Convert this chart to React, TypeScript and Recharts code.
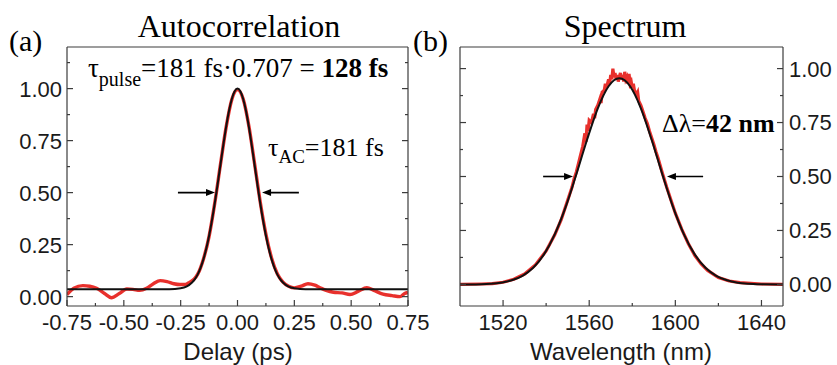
import React from 'react'
import { LineChart, Line, XAxis, YAxis, ReferenceLine } from 'recharts'

const SANS = '"Liberation Sans", Arial, sans-serif'
const SERIF = '"Liberation Serif", "Times New Roman", serif'
const FRAME = '#3c3c3c'
const RED = '#e8302c'
const INK = '#1a1a1a'

// (a) autocorrelation, measured trace
const acMeasDelay = [
  -0.75, -0.72, -0.68, -0.65, -0.62, -0.585, -0.555, -0.52, -0.487, -0.46, -0.43, -0.4, -0.37, -0.34,
  -0.31, -0.28, -0.253, -0.23, -0.21, -0.19, -0.175, -0.15, -0.125, -0.1, -0.075, -0.05, -0.025, 0,
  0.025, 0.05, 0.075, 0.1, 0.125, 0.15, 0.175, 0.2, 0.225, 0.25, 0.28, 0.31, 0.34, 0.363, 0.39, 0.422,
  0.46, 0.495, 0.53, 0.569, 0.6, 0.64, 0.68, 0.715, 0.735, 0.75,
]
const acMeasValue = [
  0.01, 0.04, 0.053, 0.05, 0.04, 0.015, -0.005, 0.015, 0.037, 0.035, 0.03, 0.04, 0.062, 0.077,
  0.072, 0.062, 0.058, 0.058, 0.07, 0.085, 0.108, 0.18, 0.29, 0.45, 0.635, 0.815, 0.948, 0.995,
  0.95, 0.82, 0.64, 0.455, 0.3, 0.185, 0.11, 0.07, 0.05, 0.042, 0.05, 0.062, 0.055, 0.043, 0.03, 0.021,
  0.018, 0.01, 0.025, 0.043, 0.03, 0.012, 0.005, 0, 0.015, 0.02,
]

// (a) autocorrelation, fit
const acFitDelay = [
  -0.75, -0.3, -0.25, -0.225, -0.2, -0.1875, -0.175, -0.1625, -0.15, -0.1375, -0.125, -0.1125, -0.1,
  -0.0875, -0.075, -0.0625, -0.05, -0.0375, -0.025, -0.0125, 0, 0.0125, 0.025, 0.0375, 0.05, 0.0625,
  0.075, 0.0875, 0.1, 0.1125, 0.125, 0.1375, 0.15, 0.1625, 0.175, 0.1875, 0.2, 0.225, 0.25, 0.3, 0.75,
]
const acFitValue = [
  0.035, 0.035, 0.04, 0.048, 0.068, 0.084, 0.107, 0.138, 0.179, 0.23, 0.293, 0.366, 0.449,
  0.54, 0.634, 0.728, 0.816, 0.892, 0.95, 0.987, 1.0, 0.987, 0.95, 0.892, 0.816, 0.728,
  0.634, 0.54, 0.449, 0.366, 0.293, 0.23, 0.179, 0.138, 0.107, 0.084, 0.068, 0.048, 0.04, 0.035, 0.035,
]

// (b) spectrum, measured trace
const specMeasWl = [
  1500, 1510, 1515, 1520, 1525, 1530, 1535, 1540, 1544, 1547, 1550, 1552, 1553, 1554, 1555, 1556, 1557,
  1558, 1558.5, 1559, 1559.5, 1560, 1561, 1562, 1562.5, 1563, 1564, 1565, 1565.5, 1566, 1567, 1567.5,
  1568, 1569, 1569.5, 1570, 1570.5, 1571, 1571.5, 1572, 1572.5, 1573, 1573.5, 1574, 1574.5, 1575,
  1575.5, 1576, 1576.5, 1577, 1577.5, 1578, 1578.5, 1579, 1579.5, 1580, 1580.5, 1581, 1582, 1582.5,
  1583, 1584, 1585, 1586, 1587, 1588, 1589, 1590, 1591, 1592, 1593, 1594, 1596, 1598, 1600, 1603,
  1606, 1609, 1612, 1615, 1620, 1625, 1630, 1640, 1650,
]
const specMeasValue = [
  0, 0.002, 0.004, 0.01, 0.024, 0.048, 0.09, 0.155, 0.23, 0.3, 0.39, 0.45, 0.49, 0.52, 0.56, 0.6, 0.64,
  0.7, 0.66, 0.74, 0.71, 0.76, 0.75, 0.79, 0.77, 0.81, 0.83, 0.86, 0.84, 0.89, 0.9, 0.93,
  0.91, 0.95, 0.93, 0.97, 0.95, 1.0, 0.96, 0.98, 0.95, 0.97, 0.94, 0.96, 0.98, 0.95,
  0.97, 0.94, 0.985, 0.95, 0.96, 0.93, 0.975, 0.93, 0.94, 0.91, 0.93, 0.9, 0.88, 0.89,
  0.85, 0.83, 0.8, 0.77, 0.745, 0.71, 0.68, 0.65, 0.615, 0.585, 0.55, 0.515, 0.45, 0.39, 0.33, 0.255,
  0.19, 0.135, 0.095, 0.065, 0.032, 0.016, 0.008, 0.002, 0,
]

// (b) spectrum, fit
const specFitWl = [
  1500, 1505, 1510, 1514, 1519, 1524, 1529, 1534, 1539, 1544, 1549, 1554, 1559, 1564, 1569, 1571.5,
  1574, 1576.5, 1579, 1584, 1589, 1594, 1599, 1604, 1609, 1614, 1619, 1624, 1629, 1634, 1638, 1650,
]
const specFitValue = [
  0, 0, 0.001, 0.003, 0.008, 0.019, 0.04, 0.077, 0.139, 0.232, 0.357, 0.509, 0.67, 0.816, 0.918, 0.946,
  0.955, 0.946, 0.918, 0.816, 0.67, 0.509, 0.357, 0.232, 0.139, 0.077, 0.04, 0.019, 0.008, 0.003, 0.001, 0,
]

// ticks
const acXTicks = [-0.75, -0.625, -0.5, -0.375, -0.25, -0.125, 0, 0.125, 0.25, 0.375, 0.5, 0.625, 0.75]
const acXMajor = [-0.75, -0.5, -0.25, 0, 0.25, 0.5, 0.75]
const acYTicks = [0, 0.125, 0.25, 0.375, 0.5, 0.625, 0.75, 0.875, 1, 1.125]
const acYMajor = [0, 0.25, 0.5, 0.75, 1]
const specXTicks = [1520, 1540, 1560, 1580, 1600, 1620, 1640]
const specXMajor = [1520, 1560, 1600, 1640]
const specYTicks = [0, 0.125, 0.25, 0.375, 0.5, 0.625, 0.75, 0.875, 1]
const specYMajor = [0, 0.25, 0.5, 0.75, 1]

// half-maximum arrows (data units)
const acArrows = [
  { from: -0.262, to: -0.099, level: 0.5 },
  { from: 0.27, to: 0.108, level: 0.5 },
]
const specArrows = [
  { from: 1538.6, to: 1552.5, level: 0.5 },
  { from: 1612.9, to: 1596.1, level: 0.5 },
]

const zip = (xs: number[], ys: number[]) => xs.map((x, i) => ({ x, y: ys[i] }))
const acMeas = zip(acMeasDelay, acMeasValue)
const acFit = zip(acFitDelay, acFitValue)
const specMeas = zip(specMeasWl, specMeasValue)
const specFit = zip(specFitWl, specFitValue)

type Side = 'bottom' | 'top' | 'left' | 'right'

const makeTick = (side: Side, majors: number[], fmt?: (v: number) => string) => (props: any) => {
  const { x, y, payload } = props
  const v = payload.value
  const major = majors.includes(v)
  const len = major ? 6 : 3
  let line
  if (side === 'bottom') line = <line x1={x} y1={y} x2={x} y2={y - len} />
  else if (side === 'top') line = <line x1={x} y1={y} x2={x} y2={y + len} />
  else if (side === 'left') line = <line x1={x} y1={y} x2={x + len} y2={y} />
  else line = <line x1={x} y1={y} x2={x - len} y2={y} />
  let label = null
  if (major && fmt) {
    const common = { fontFamily: SANS, fontSize: 22, fill: INK }
    if (side === 'bottom')
      label = <text x={x} y={y + 24} textAnchor="middle" {...common}>{fmt(v)}</text>
    else if (side === 'left')
      label = <text x={x - 5} y={y} dy="0.36em" textAnchor="end" {...common}>{fmt(v)}</text>
    else if (side === 'right')
      label = <text x={x + 6} y={y} dy="0.36em" textAnchor="start" {...common}>{fmt(v)}</text>
  }
  return (
    <g stroke={FRAME} strokeWidth={1.2}>
      {line}
      {label && <g stroke="none">{label}</g>}
    </g>
  )
}

const Arrow = (p: any) => {
  const { x1, y1, x2, y2 } = p
  const dir = Math.sign(x2 - x1)
  const L = 9
  const W = 3.5
  return (
    <g>
      <line x1={x1} y1={y1} x2={x2 - dir * L * 0.5} y2={y2} stroke="#000" strokeWidth={1.6} />
      <polygon points={`${x2},${y2} ${x2 - dir * L},${y2 - W} ${x2 - dir * L},${y2 + W}`} fill="#000" />
    </g>
  )
}

const fix2 = (v: number) => v.toFixed(2)
const int = (v: number) => String(v)
const axisLine = { stroke: FRAME, strokeWidth: 1.2 }

function AutocorrelationChart() {
  return (
    <LineChart width={430} height={365} margin={{ top: 46, right: 21, bottom: 29, left: 7 }}>
      <XAxis dataKey="x" type="number" domain={[-0.75, 0.75]} allowDataOverflow ticks={acXTicks} interval={0}
        tickSize={0} tickMargin={0} tickLine={false} height={30} axisLine={axisLine}
        tick={makeTick('bottom', acXMajor, fix2)} />
      <XAxis xAxisId="top" orientation="top" type="number" domain={[-0.75, 0.75]} allowDataOverflow
        ticks={acXTicks} interval={0} tickSize={0} tickMargin={0} tickLine={false} height={1}
        axisLine={axisLine} tick={makeTick('top', acXMajor)} />
      <YAxis type="number" domain={[-0.045, 1.2]} allowDataOverflow ticks={acYTicks} interval={0}
        tickSize={0} tickMargin={0} tickLine={false} width={60} axisLine={axisLine}
        tick={makeTick('left', acYMajor, fix2)} />
      <YAxis yAxisId="r" orientation="right" type="number" domain={[-0.045, 1.2]} allowDataOverflow
        ticks={acYTicks} interval={0} tickSize={0} tickMargin={0} tickLine={false} width={1}
        axisLine={axisLine} tick={makeTick('right', acYMajor)} />
      <Line data={acMeas} dataKey="y" type="monotone" stroke={RED} strokeWidth={3.4} dot={false}
        isAnimationActive={false} />
      <Line data={acFit} dataKey="y" type="monotone" stroke="#111" strokeWidth={2} dot={false}
        isAnimationActive={false} />
      {acArrows.map((a, i) => (
        <ReferenceLine key={i} segment={[{ x: a.from, y: a.level }, { x: a.to, y: a.level }]} shape={Arrow} />
      ))}
    </LineChart>
  )
}

function SpectrumChart() {
  return (
    <LineChart width={407} height={365} margin={{ top: 46, right: 0, bottom: 29, left: 29 }}>
      <XAxis dataKey="x" type="number" domain={[1500, 1650]} allowDataOverflow ticks={specXTicks} interval={0}
        tickSize={0} tickMargin={0} tickLine={false} height={30} axisLine={axisLine}
        tick={makeTick('bottom', specXMajor, int)} />
      <XAxis xAxisId="top" orientation="top" type="number" domain={[1500, 1650]} allowDataOverflow
        ticks={specXTicks} interval={0} tickSize={0} tickMargin={0} tickLine={false} height={1}
        axisLine={axisLine} tick={makeTick('top', specXMajor)} />
      <YAxis type="number" domain={[-0.1, 1.1]} allowDataOverflow ticks={specYTicks} interval={0}
        tickSize={0} tickMargin={0} tickLine={false} width={1} axisLine={axisLine}
        tick={makeTick('left', specYMajor)} />
      <YAxis yAxisId="r" orientation="right" type="number" domain={[-0.1, 1.1]} allowDataOverflow
        ticks={specYTicks} interval={0} tickSize={0} tickMargin={0} tickLine={false} width={54}
        axisLine={axisLine} tick={makeTick('right', specYMajor, fix2)} />
      <Line data={specMeas} dataKey="y" type="linear" stroke={RED} strokeWidth={3.2} dot={false}
        isAnimationActive={false} />
      <Line data={specFit} dataKey="y" type="monotone" stroke="#111" strokeWidth={2} dot={false}
        isAnimationActive={false} />
      {specArrows.map((a, i) => (
        <ReferenceLine key={i} segment={[{ x: a.from, y: a.level }, { x: a.to, y: a.level }]} shape={Arrow} />
      ))}
    </LineChart>
  )
}

export default function App() {
  const serif = { fontFamily: SERIF, fill: '#000', whiteSpace: 'pre' as const }
  return (
    <div style={{ position: 'absolute', left: 0, top: 0, width: 837, height: 365, background: '#fff' }}>
      <div style={{ position: 'absolute', left: 0, top: 0 }}>
        <AutocorrelationChart />
      </div>
      <div style={{ position: 'absolute', left: 430, top: 0 }}>
        <SpectrumChart />
      </div>
      <svg width={837} height={365} style={{ position: 'absolute', left: 0, top: 0, pointerEvents: 'none' }}>
        <text x={239} y={37} textAnchor="middle" fontSize={32} style={serif}>Autocorrelation</text>
        <text x={625} y={37} textAnchor="middle" fontSize={32} style={serif}>Spectrum</text>
        <text x={9} y={51} fontSize={30} style={serif}>(a)</text>
        <text x={413} y={51} fontSize={30} style={serif}>(b)</text>
        <text x={88} y={77} fontSize={27} style={serif}>
          τ<tspan fontSize={20} dy={9}>pulse</tspan>
          <tspan dy={-9}>=181 fs·0.707 = </tspan>
          <tspan fontWeight="bold">128 fs</tspan>
        </text>
        <text x={268} y={156} fontSize={26} style={serif}>
          τ<tspan fontSize={19} dy={7}>AC</tspan>
          <tspan dy={-7}>=181 fs</tspan>
        </text>
        <text x={662} y={132} fontSize={26} style={serif}>
          Δλ=<tspan fontWeight="bold">42 nm</tspan>
        </text>
        <text x={238} y={360} textAnchor="middle" fontSize={24} fontFamily={SANS} fill={INK}>Delay (ps)</text>
        <text x={621} y={360} textAnchor="middle" fontSize={24} fontFamily={SANS} fill={INK}>Wavelength (nm)</text>
      </svg>
    </div>
  )
}
